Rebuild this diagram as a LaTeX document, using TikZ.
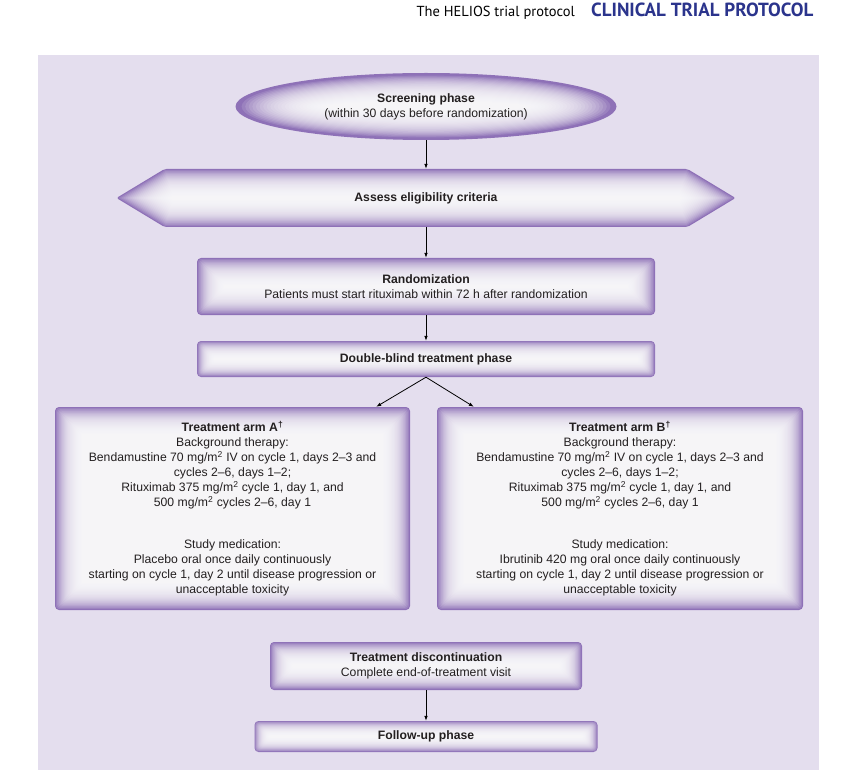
\documentclass[tikz,border=0pt]{standalone}
\usepackage{fontspec}
\setmainfont{Liberation Sans}
\newfontfamily\headfont{PT Sans}
\usetikzlibrary{arrows.meta,shapes.geometric}

\definecolor{panelbg}{RGB}{228,222,238}
\definecolor{glowpurple}{RGB}{142,113,183}
\definecolor{headblue}{RGB}{43,52,140}
\definecolor{inktext}{RGB}{35,31,32}

\begin{document}
\begin{tikzpicture}[
  x=1pt, y=-1pt,
  font=\fontsize{12.2}{15}\selectfont,
  >=Latex,
  box/.style={
    rectangle, rounded corners=4pt, fill=glowpurple,
    text=inktext, align=center, inner sep=0pt,
    path picture={
      \foreach \k in {1,...,24}{
        \fill[white, opacity=0.12, rounded corners=3pt]
          ([shift={(\k*#1pt,\k*#1pt)}]path picture bounding box.south west) rectangle
          ([shift={(-\k*#1pt,-\k*#1pt)}]path picture bounding box.north east);
      }
    }
  },
  box/.default=1.1,
  oval/.style={
    ellipse, fill=glowpurple, text=inktext, align=center, inner sep=0pt,
    path picture={
      \foreach \k in {1,...,24}{
        \fill[white, opacity=0.12] (path picture bounding box.center)
          ellipse [x radius={188pt-\k*3.6pt}, y radius={32pt-\k*1.1pt}];
      }
    }
  },
  hexa/.style={
    rectangle, text=inktext, align=center, inner sep=0pt,
    path picture={
      \coordinate (hc) at (path picture bounding box.center);
      \fill[glowpurple, rounded corners=2pt]
        ([shift={(-309.5pt,0pt)}]hc) -- ([shift={(-261.5pt,29pt)}]hc)
        -- ([shift={(261.5pt,29pt)}]hc) -- ([shift={(309.5pt,0pt)}]hc)
        -- ([shift={(261.5pt,-29pt)}]hc) -- ([shift={(-261.5pt,-29pt)}]hc) -- cycle;
      \foreach \k [evaluate=\k as \w using 309.5-2.2*\k,
                   evaluate=\k as \h using 29-1.1*\k,
                   evaluate=\k as \c using 309.5-2.2*\k-1.66*(29-1.1*\k)] in {1,...,24}{
        \fill[white, opacity=0.12]
          ([shift={(-\w pt,0pt)}]hc) -- ([shift={(-\c pt,\h pt)}]hc)
          -- ([shift={(\c pt,\h pt)}]hc) -- ([shift={(\w pt,0pt)}]hc)
          -- ([shift={(\c pt,-\h pt)}]hc) -- ([shift={(-\c pt,-\h pt)}]hc) -- cycle;
      }
    }
  },
  arr/.style={-{Latex[length=5pt,width=3.6pt]}, line width=0.8pt, black}
]
\useasboundingbox (0,0) rectangle (850,775);

% running head
\node[anchor=base east, inner sep=0pt, font=\headfont\fontsize{14.5}{16}\selectfont] (runhead) at (575,17) {The HELIOS trial protocol};
\node[anchor=base west, inner sep=0pt, font=\headfont\bfseries\fontsize{19}{20}\selectfont, text=headblue] (runtitle) at (591,17) {CLINICAL TRIAL PROTOCOL};

% panel
\fill[panelbg] (38,55) rectangle (819,770);

% screening and randomization
\node[oval, minimum width=381, minimum height=67] (screen) at (426,106.5)
  {\textbf{Screening phase}\\(within 30 days before randomization)};
\node[hexa, minimum width=619, minimum height=58] (assess) at (426,198)
  {\textbf{Assess eligibility criteria}};
\node[box, minimum width=458, minimum height=57] (rand) at (426,286.5)
  {\textbf{Randomization}\\Patients must start rituximab within 72 h after randomization};
\node[box=0.68, minimum width=458, minimum height=36] (dbt) at (426,359)
  {\textbf{Double-blind treatment phase}};

% treatment arms
\node[box, minimum width=355, minimum height=203] (armA) at (232.5,508.5)
  {\textbf{Treatment arm A\textsuperscript{\dag}}\\
   Background therapy:\\
   Bendamustine 70 mg/m\textsuperscript{2} IV on cycle 1, days 2--3 and\\
   cycles 2--6, days 1--2;\\
   Rituximab 375 mg/m\textsuperscript{2} cycle 1, day 1, and\\
   500 mg/m\textsuperscript{2} cycles 2--6, day 1\\[27pt]
   Study medication:\\
   Placebo oral once daily continuously\\
   starting on cycle 1, day 2 until disease progression or\\
   unacceptable toxicity};
\node[box, minimum width=366, minimum height=203] (armB) at (620,508.5)
  {\textbf{Treatment arm B\textsuperscript{\dag}}\\
   Background therapy:\\
   Bendamustine 70 mg/m\textsuperscript{2} IV on cycle 1, days 2--3 and\\
   cycles 2--6, days 1--2;\\
   Rituximab 375 mg/m\textsuperscript{2} cycle 1, day 1, and\\
   500 mg/m\textsuperscript{2} cycles 2--6, day 1\\[27pt]
   Study medication:\\
   Ibrutinib 420 mg oral once daily continuously\\
   starting on cycle 1, day 2 until disease progression or\\
   unacceptable toxicity};

% end of treatment
\node[box=0.9, minimum width=312, minimum height=48] (disc) at (426,666)
  {\textbf{Treatment discontinuation}\\Complete end-of-treatment visit};
\node[box=0.58, minimum width=343, minimum height=31] (follow) at (426,736.5)
  {\textbf{Follow-up phase}};

% arrows
\draw[arr] (screen) -- (assess);
\draw[arr] (assess) -- (rand);
\draw[arr] (rand) -- (dbt);
\draw[arr] (dbt.south) -- ([xshift=-34pt]armA.north east);
\draw[arr] (dbt.south) -- ([xshift=37pt]armB.north west);
\draw[arr] (disc) -- (follow);
\end{tikzpicture}
\end{document}
